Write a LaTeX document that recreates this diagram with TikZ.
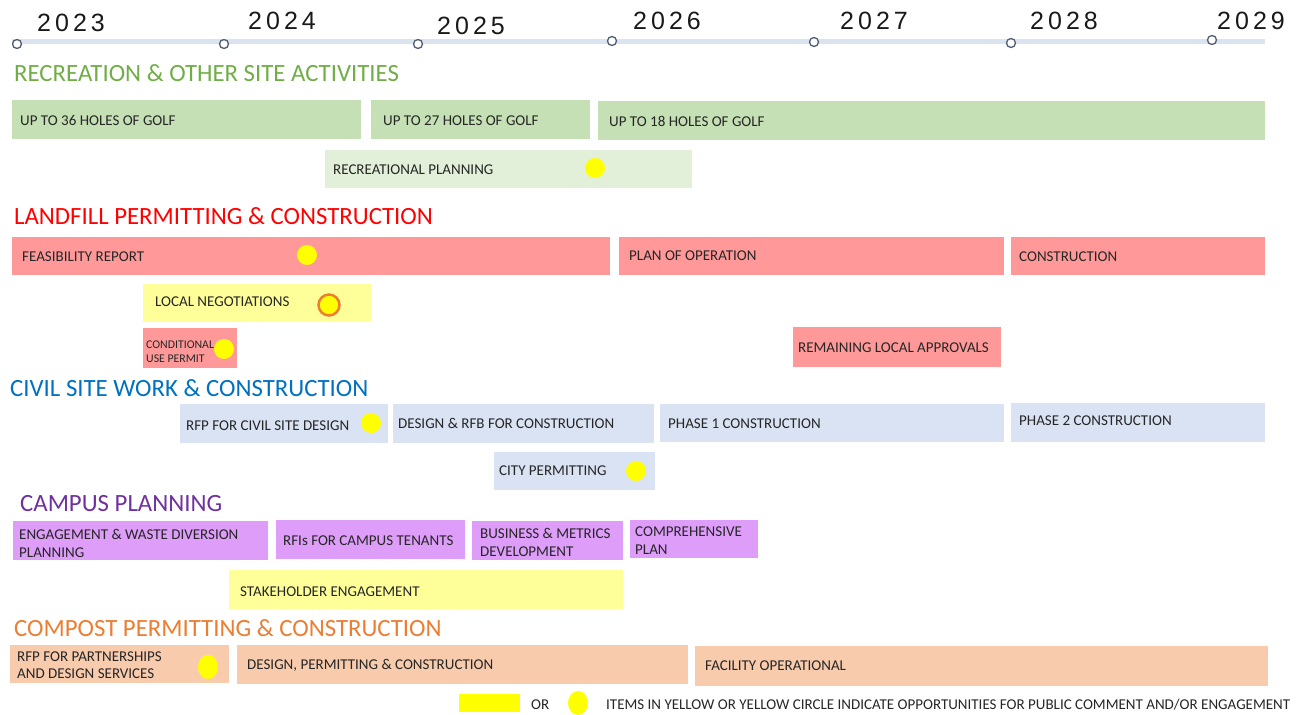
\documentclass[tikz,border=0pt]{standalone}
\usepackage{fontspec}
\setmainfont{Carlito}
\newfontfamily\yearfont[LetterSpace=16]{Liberation Sans}
\usetikzlibrary{shapes.geometric}
\definecolor{gbar}{HTML}{C5E0B4}
\definecolor{lgbar}{HTML}{E2F0D9}
\definecolor{rbar}{HTML}{FF9999}
\definecolor{ybar}{HTML}{FFFF99}
\definecolor{bbar}{HTML}{DAE3F3}
\definecolor{vbar}{HTML}{DD9DF9}
\definecolor{pbar}{HTML}{F8CBAD}
\definecolor{tgreen}{HTML}{70AD47}
\definecolor{tred}{HTML}{FF0000}
\definecolor{tblue}{HTML}{0070C0}
\definecolor{tpurple}{HTML}{7030A0}
\definecolor{torange}{HTML}{ED7D31}
\definecolor{tline}{HTML}{DBE3F1}
\definecolor{tickc}{HTML}{4F5D73}
\definecolor{dyellow}{HTML}{FFFF00}
\begin{document}
\begin{tikzpicture}[x=1pt,y=-1pt,
  barbox/.style={draw=none, inner sep=0, anchor=north west},
  lbl/.style={inner sep=0, anchor=base west, font=\fontsize{15}{17}\selectfont, text=black!85},
  lbltwo/.style={inner sep=0, anchor=north west, align=left, font=\fontsize{15}{18}\selectfont, text=black!85},
  ttl/.style={inner sep=0, anchor=base west, font=\fontsize{24.8}{28}\selectfont},
  dot/.style={circle, fill=dyellow, minimum size=20, inner sep=0},
  edot/.style={ellipse, fill=dyellow, minimum width=20, minimum height=24, inner sep=0},
  tick/.style={circle, draw=tickc, fill=white, line width=1.3, minimum size=9, inner sep=0},
  yr/.style={inner sep=0, anchor=base west, font=\yearfont\fontsize{25}{28}\selectfont, text=black!90},
  leg/.style={inner sep=0, anchor=base west, font=\fontsize{15}{17}\selectfont, text=black!85}]
\useasboundingbox (0,0) rectangle (1302,715);

% timeline
\coordinate (tlstart) at (12,41);
\coordinate (tlend) at (1265,41);
\draw[tline, line width=5] (tlstart) -- (tlend);
\node[tick] (t2023) at (17,44) {};
\node[tick] (t2024) at (224,44) {};
\node[tick] (t2025) at (418,44) {};
\node[tick] (t2026) at (612,41) {};
\node[tick] (t2027) at (814,42) {};
\node[tick] (t2028) at (1011,43) {};
\node[tick] (t2029) at (1212,40) {};
\node[yr] (y2023) at (37,31) {2023};
\node[yr] (y2024) at (248,29) {2024};
\node[yr] (y2025) at (437,34) {2025};
\node[yr] (y2026) at (633,29) {2026};
\node[yr] (y2027) at (840,29) {2027};
\node[yr] (y2028) at (1030,29) {2028};
\node[yr] (y2029) at (1217,29) {2029};

% Recreation
\node[ttl, text=tgreen] (ttlrec) at (14,81) {RECREATION \& OTHER SITE ACTIVITIES};
\node[barbox, fill=gbar, minimum width=349, minimum height=39] (golf36) at (12,100) {};
\node[lbl] (golf36t) at (20,125) {UP TO 36 HOLES OF GOLF};
\node[barbox, fill=gbar, minimum width=219, minimum height=39] (golf27) at (371,100) {};
\node[lbl] (golf27t) at (383,125) {UP TO 27 HOLES OF GOLF};
\node[barbox, fill=gbar, minimum width=667, minimum height=39] (golf18) at (598,101) {};
\node[lbl] (golf18t) at (609,126) {UP TO 18 HOLES OF GOLF};
\node[barbox, fill=lgbar, minimum width=367, minimum height=38] (recplan) at (325,150) {};
\node[lbl] (recplant) at (333,174) {RECREATIONAL PLANNING};
\node[dot] (recplandot) at (595,168) {};

% Landfill
\node[ttl, text=tred] (ttllan) at (14,224) {LANDFILL PERMITTING \& CONSTRUCTION};
\node[barbox, fill=rbar, minimum width=598, minimum height=38] (feas) at (12,237) {};
\node[lbl] (feast) at (22,261) {FEASIBILITY REPORT};
\node[dot] (feasdot) at (307,255) {};
\node[barbox, fill=rbar, minimum width=385, minimum height=38] (planop) at (619,237) {};
\node[lbl] (planopt) at (629,260) {PLAN OF OPERATION};
\node[barbox, fill=rbar, minimum width=254, minimum height=38] (constr) at (1011,237) {};
\node[lbl] (constrt) at (1019,261) {CONSTRUCTION};
\node[barbox, fill=ybar, minimum width=228, minimum height=38] (localneg) at (143,284) {};
\node[lbl] (localnegt) at (155,306) {LOCAL NEGOTIATIONS};
\node[dot, draw=torange, line width=2.5, minimum size=21] (localnegdot) at (329,305) {};
\node[barbox, fill=rbar, minimum width=94, minimum height=40] (cup) at (143,328) {};
\node[inner sep=0, anchor=north west, align=left, font=\fontsize{11.8}{14}\selectfont, text=black!85] (cupt) at (146,340.2) {CONDITIONAL\\USE PERMIT};
\node[dot] (cupdot) at (224,349) {};
\node[barbox, fill=rbar, minimum width=208, minimum height=40] (remain) at (793,327) {};
\node[lbl] (remaint) at (798,352) {REMAINING LOCAL APPROVALS};

% Civil
\node[ttl, text=tblue] (ttlciv) at (10,396) {CIVIL SITE WORK \& CONSTRUCTION};
\node[barbox, fill=bbar, minimum width=208, minimum height=39] (rfpcivil) at (180,404) {};
\node[lbl] (rfpcivilt) at (186,430) {RFP FOR CIVIL SITE DESIGN};
\node[dot] (rfpcivildot) at (371,423) {};
\node[barbox, fill=bbar, minimum width=261, minimum height=39] (designrfb) at (393,404) {};
\node[lbl] (designrfbt) at (398,428) {DESIGN \& RFB FOR CONSTRUCTION};
\node[barbox, fill=bbar, minimum width=344, minimum height=38] (phase1) at (660,404) {};
\node[lbl] (phase1t) at (668,428) {PHASE 1 CONSTRUCTION};
\node[barbox, fill=bbar, minimum width=254, minimum height=39] (phase2) at (1011,403) {};
\node[lbl] (phase2t) at (1019,425) {PHASE 2 CONSTRUCTION};
\node[barbox, fill=bbar, minimum width=161, minimum height=38] (citypermit) at (494,452) {};
\node[lbl] (citypermitt) at (499,475) {CITY PERMITTING};
\node[dot] (citypermitdot) at (636,471) {};

% Campus
\node[ttl, text=tpurple] (ttlcam) at (20,511) {CAMPUS PLANNING};
\node[barbox, fill=vbar, minimum width=255, minimum height=39] (engage) at (13,521) {};
\node[lbltwo] (engaget) at (19,529.2) {ENGAGEMENT \& WASTE DIVERSION\\PLANNING};
\node[barbox, fill=vbar, minimum width=189, minimum height=39] (rfis) at (276,520) {};
\node[lbl] (rfist) at (283,545) {RFIs FOR CAMPUS TENANTS};
\node[barbox, fill=vbar, minimum width=151, minimum height=39] (business) at (472,521) {};
\node[lbltwo] (businesst) at (480,528.2) {BUSINESS \& METRICS\\DEVELOPMENT};
\node[barbox, fill=vbar, minimum width=128, minimum height=38] (comp) at (630,520) {};
\node[lbltwo] (compt) at (635,526.2) {COMPREHENSIVE\\PLAN};
\node[barbox, fill=ybar, minimum width=394, minimum height=39] (stake) at (229,570) {};
\node[lbl] (staket) at (240,596) {STAKEHOLDER ENGAGEMENT};

% Compost
\node[ttl, text=torange] (ttlcom) at (14,636) {COMPOST PERMITTING \& CONSTRUCTION};
\node[barbox, fill=pbar, minimum width=219, minimum height=38] (rfppart) at (10,645) {};
\node[lbltwo, font=\fontsize{15}{17}\selectfont] (rfppartt) at (17,651.2) {RFP FOR PARTNERSHIPS\\AND DESIGN SERVICES};
\node[edot] (rfppartdot) at (208,667) {};
\node[barbox, fill=pbar, minimum width=451, minimum height=39] (designperm) at (237,645) {};
\node[lbl] (designpermt) at (247,669) {DESIGN, PERMITTING \& CONSTRUCTION};
\node[barbox, fill=pbar, minimum width=573, minimum height=40] (facility) at (695,646) {};
\node[lbl] (facilityt) at (705,670) {FACILITY OPERATIONAL};

% Legend
\node[barbox, fill=dyellow, minimum width=61, minimum height=18] (legrect) at (459,694) {};
\node[leg] (legor) at (531,709) {OR};
\node[edot] (legdot) at (578,703) {};
\node[leg] (legtext) at (606,709) {ITEMS IN YELLOW OR YELLOW CIRCLE INDICATE OPPORTUNITIES FOR PUBLIC COMMENT AND/OR ENGAGEMENT};
\end{tikzpicture}
\end{document}
